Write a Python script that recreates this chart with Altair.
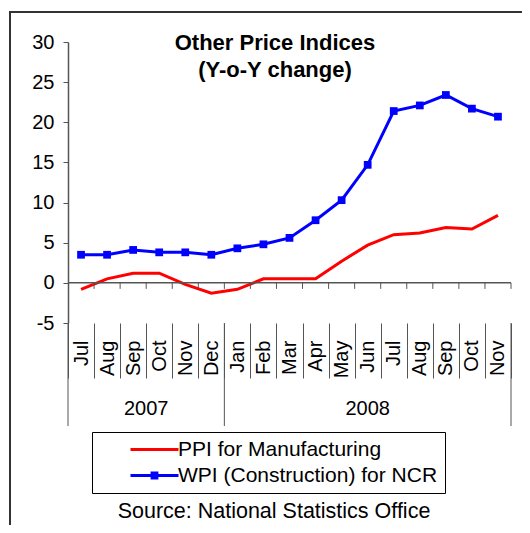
import altair as alt
import pandas as pd

# ---- data ----
months = ["Jul", "Aug", "Sep", "Oct", "Nov", "Dec", "Jan", "Feb", "Mar", "Apr",
          "May", "Jun", "Jul", "Aug", "Sep", "Oct", "Nov"]
years = ["2007"] * 6 + ["2008"] * 11
ppi = [-0.8, 0.5, 1.2, 1.2, -0.2, -1.3, -0.8, 0.5, 0.5, 0.5, 2.7, 4.7, 6.0, 6.2, 6.9, 6.7, 8.4]
wpi = [3.5, 3.5, 4.1, 3.8, 3.8, 3.5, 4.3, 4.8, 5.6, 7.8, 10.3, 14.7, 21.4, 22.1, 23.4, 21.7, 20.7]
series_names = ["PPI for Manufacturing", "WPI (Construction) for NCR"]
series_colors = ["#FF0000", "#0000FF"]
y_ticks = [-5, 0, 5, 10, 15, 20, 25, 30]
title_lines = ["Other Price Indices", "(Y-o-Y change)"]
source_text = "Source: National Statistics Office"
year_labels = ["2007", "2008"]

FONT = "Arial"
AXC = "#555555"
W, H = 443, 281

keys = [f"{y}-{m}" for y, m in zip(years, months)]
n = len(keys)
df = pd.DataFrame({
    "key": keys * 2,
    "value": ppi + wpi,
    "series": [series_names[0]] * n + [series_names[1]] * n,
})

xscale = alt.Scale(type="band", domain=keys, paddingInner=0, paddingOuter=0)
yscale = alt.Scale(domain=[-5, 30], nice=False, zero=False)


def X(bp=0.5, axis=None):
    return alt.X("key:N", scale=xscale, axis=axis, bandPosition=bp, title=None)


xaxis = alt.Axis(
    orient="bottom",
    labelExpr="split(datum.value, '-')[1]", labelAngle=270, labelAlign="right",
    labelBaseline="middle", labelFontSize=20, labelFont=FONT, labelColor="black",
    labelPadding=-38, labelOverlap=False, labelFlush=False, labelBound=False,
    domain=False, ticks=True, tickBand="extent", tickSize=55, tickColor=AXC,
    tickWidth=1, grid=False, title=None,
)
yaxis = alt.Axis(
    orient="left",
    values=y_ticks, labelExpr="'' + datum.value", grid=False, tickSize=5,
    tickColor=AXC, domainColor=AXC, domainWidth=1.5, labelPadding=9,
    labelFontSize=20, labelFont=FONT, labelColor="black", title=None,
)

one = pd.DataFrame({"a": [0]})

frame_top = alt.Chart(one).mark_rule(color="#333333", strokeWidth=2).encode(
    x=alt.value(-58), x2=alt.value(560), y=alt.value(-30)
)
frame_left = alt.Chart(one).mark_rule(color="#333333", strokeWidth=2).encode(
    x=alt.value(-58), y=alt.value(-31), y2=alt.value(600)
)

zero_line = alt.Chart(one).mark_rule(color=AXC, strokeWidth=1.5).encode(
    y=alt.YDatum(0, scale=yscale, axis=None)
)

zero_ticks = alt.Chart(pd.DataFrame({"key": keys})).mark_rule(color=AXC, strokeWidth=1).encode(
    x=X(1), y=alt.YDatum(0, scale=yscale, axis=None), y2=alt.Y2Datum(-0.75)
)

line_red = alt.Chart(df).transform_filter(
    alt.datum.series == series_names[0]
).mark_line(strokeWidth=3, color=series_colors[0]).encode(
    x=X(0.5, axis=xaxis),
    y=alt.Y("value:Q", scale=yscale, axis=yaxis, title=None),
)
line_blue = alt.Chart(df).transform_filter(
    alt.datum.series == series_names[1]
).mark_line(strokeWidth=3, color=series_colors[1]).encode(
    x=X(0.5), y=alt.Y("value:Q", scale=yscale, axis=None),
)
points = alt.Chart(df).transform_filter(
    alt.datum.series == series_names[1]
).mark_square(size=60, color=series_colors[1], opacity=1).encode(
    x=X(0.5), y=alt.Y("value:Q", scale=yscale, axis=None)
)

yr_rules_end = alt.Chart(pd.DataFrame({"key": ["2007-Dec", "2008-Nov"]})).mark_rule(
    color=AXC, strokeWidth=1).encode(x=X(1), y=alt.value(H), y2=alt.value(384))
yr_rule_start = alt.Chart(pd.DataFrame({"key": ["2007-Jul"]})).mark_rule(
    color=AXC, strokeWidth=1).encode(x=X(0), y=alt.value(H), y2=alt.value(384))

yr1 = alt.Chart(pd.DataFrame({"key": ["2007-Oct"], "t": [year_labels[0]]})).mark_text(
    fontSize=20, font=FONT, color="black", baseline="alphabetic").encode(
    x=X(0), y=alt.value(373), text="t:N")
yr2 = alt.Chart(pd.DataFrame({"key": ["2008-Jun"], "t": [year_labels[1]]})).mark_text(
    fontSize=20, font=FONT, color="black", baseline="alphabetic").encode(
    x=X(0.5), y=alt.value(373), text="t:N")

title = alt.Chart(one).mark_text(
    text=title_lines, fontSize=22, fontWeight="bold", font=FONT, lineHeight=27,
    align="center", baseline="alphabetic", color="black").encode(
    x=alt.value(207), y=alt.value(8))

source = alt.Chart(one).mark_text(
    text=source_text, fontSize=21.5, font=FONT, align="center", baseline="alphabetic",
    color="black").encode(x=alt.value(206), y=alt.value(476))

LINE_PATH = "M-6,0H6"
LINE_SQ_PATH = "M-6,0H6M-0.6,-0.6H0.6V0.6H-0.6Z"
leg = alt.Legend(
    orient="none", legendX=24, legendY=390, title=None, strokeColor="black",
    padding=7, symbolOffset=45, labelFontSize=21, labelFont=FONT, labelColor="black",
    symbolSize=64, symbolStrokeWidth=3, symbolOpacity=1, labelOffset=13, rowPadding=4,
    labelLimit=600,
    labelExpr="datum.label + '\u00a0\u00a0\u00a0\u00a0\u00a0\u00a0\u00a0\u00a0'",
)
legend_layer = alt.Chart(pd.DataFrame({"series": series_names})).mark_point(
    filled=False, opacity=0, strokeWidth=3, size=64).encode(
    stroke=alt.Stroke("series:N", scale=alt.Scale(domain=series_names, range=series_colors), legend=leg),
    shape=alt.Shape("series:N", scale=alt.Scale(domain=series_names, range=[LINE_PATH, LINE_SQ_PATH]), legend=leg),
)

chart = alt.layer(
    line_red, frame_top, frame_left, zero_line, zero_ticks, yr_rules_end, yr_rule_start,
    line_blue, points, yr1, yr2, title, source, legend_layer
).resolve_axis(x="independent", y="independent").properties(
    width=W, height=H,
    autosize=alt.AutoSizeParams(type="none"),
    padding={"left": 60, "top": 34, "right": 11, "bottom": 202},
).configure_view(stroke=None)

chart.save("out.html", embed_options={"renderer": "svg", "actions": False})
